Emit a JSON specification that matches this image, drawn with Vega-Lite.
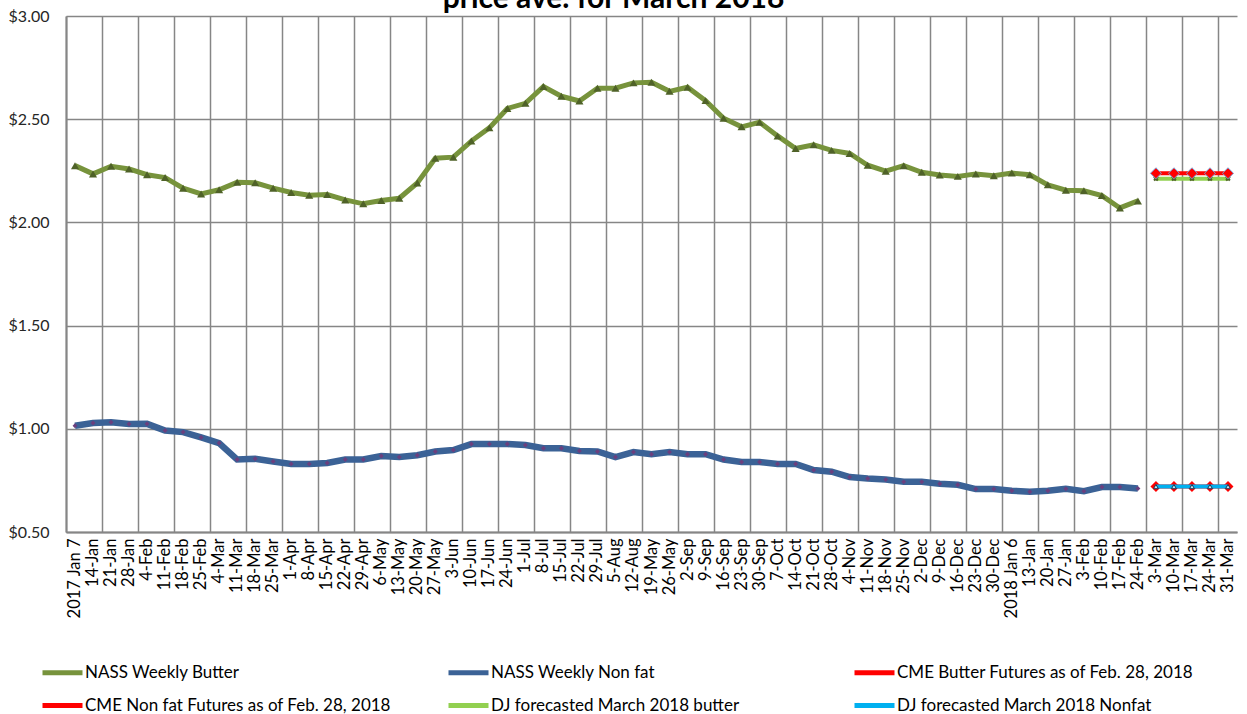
{
  "$schema": "https://vega.github.io/schema/vega-lite/v6.json",
  "width": 1171,
  "height": 516,
  "autosize": "none",
  "padding": {"left": 66, "top": 16, "right": 10, "bottom": 182},
  "background": "white",
  "config": {"view": {"stroke": null}, "font": "Lato"},
  "title": {"text": "price ave. for March 2018", "fontSize": 30, "font": "Lato", "fontWeight": "bold", "color": "#000000", "anchor": "middle", "frame": "group", "baseline": "alphabetic", "offset": -30, "dx": -38},
  "data": {"values": [
    {"w": "2017 Jan 7", "s": "NASS Weekly Butter", "p": 2.275},
    {"w": "14-Jan", "s": "NASS Weekly Butter", "p": 2.235},
    {"w": "21-Jan", "s": "NASS Weekly Butter", "p": 2.272},
    {"w": "28-Jan", "s": "NASS Weekly Butter", "p": 2.259},
    {"w": "4-Feb", "s": "NASS Weekly Butter", "p": 2.231},
    {"w": "11-Feb", "s": "NASS Weekly Butter", "p": 2.217},
    {"w": "18-Feb", "s": "NASS Weekly Butter", "p": 2.166},
    {"w": "25-Feb", "s": "NASS Weekly Butter", "p": 2.138},
    {"w": "4-Mar", "s": "NASS Weekly Butter", "p": 2.158},
    {"w": "11-Mar", "s": "NASS Weekly Butter", "p": 2.194},
    {"w": "18-Mar", "s": "NASS Weekly Butter", "p": 2.192},
    {"w": "25-Mar", "s": "NASS Weekly Butter", "p": 2.166},
    {"w": "1-Apr", "s": "NASS Weekly Butter", "p": 2.145},
    {"w": "8-Apr", "s": "NASS Weekly Butter", "p": 2.132},
    {"w": "15-Apr", "s": "NASS Weekly Butter", "p": 2.135},
    {"w": "22-Apr", "s": "NASS Weekly Butter", "p": 2.109},
    {"w": "29-Apr", "s": "NASS Weekly Butter", "p": 2.090},
    {"w": "6-May", "s": "NASS Weekly Butter", "p": 2.106},
    {"w": "13-May", "s": "NASS Weekly Butter", "p": 2.117},
    {"w": "20-May", "s": "NASS Weekly Butter", "p": 2.191},
    {"w": "27-May", "s": "NASS Weekly Butter", "p": 2.311},
    {"w": "3-Jun", "s": "NASS Weekly Butter", "p": 2.316},
    {"w": "10-Jun", "s": "NASS Weekly Butter", "p": 2.394},
    {"w": "17-Jun", "s": "NASS Weekly Butter", "p": 2.458},
    {"w": "24-Jun", "s": "NASS Weekly Butter", "p": 2.552},
    {"w": "1-Jul", "s": "NASS Weekly Butter", "p": 2.577},
    {"w": "8-Jul", "s": "NASS Weekly Butter", "p": 2.658},
    {"w": "15-Jul", "s": "NASS Weekly Butter", "p": 2.611},
    {"w": "22-Jul", "s": "NASS Weekly Butter", "p": 2.588},
    {"w": "29-Jul", "s": "NASS Weekly Butter", "p": 2.650},
    {"w": "5-Aug", "s": "NASS Weekly Butter", "p": 2.650},
    {"w": "12-Aug", "s": "NASS Weekly Butter", "p": 2.676},
    {"w": "19-May", "s": "NASS Weekly Butter", "p": 2.679},
    {"w": "26-May", "s": "NASS Weekly Butter", "p": 2.635},
    {"w": "2-Sep", "s": "NASS Weekly Butter", "p": 2.655},
    {"w": "9-Sep", "s": "NASS Weekly Butter", "p": 2.590},
    {"w": "16-Sep", "s": "NASS Weekly Butter", "p": 2.505},
    {"w": "23-Sep", "s": "NASS Weekly Butter", "p": 2.463},
    {"w": "30-Sep", "s": "NASS Weekly Butter", "p": 2.485},
    {"w": "7-Oct", "s": "NASS Weekly Butter", "p": 2.419},
    {"w": "14-Oct", "s": "NASS Weekly Butter", "p": 2.358},
    {"w": "21-Oct", "s": "NASS Weekly Butter", "p": 2.376},
    {"w": "28-Oct", "s": "NASS Weekly Butter", "p": 2.349},
    {"w": "4-Nov", "s": "NASS Weekly Butter", "p": 2.334},
    {"w": "11-Nov", "s": "NASS Weekly Butter", "p": 2.277},
    {"w": "18-Nov", "s": "NASS Weekly Butter", "p": 2.248},
    {"w": "25-Nov", "s": "NASS Weekly Butter", "p": 2.275},
    {"w": "2-Dec", "s": "NASS Weekly Butter", "p": 2.243},
    {"w": "9-Dec", "s": "NASS Weekly Butter", "p": 2.230},
    {"w": "16-Dec", "s": "NASS Weekly Butter", "p": 2.223},
    {"w": "23-Dec", "s": "NASS Weekly Butter", "p": 2.235},
    {"w": "30-Dec", "s": "NASS Weekly Butter", "p": 2.226},
    {"w": "2018 Jan 6", "s": "NASS Weekly Butter", "p": 2.239},
    {"w": "13-Jan", "s": "NASS Weekly Butter", "p": 2.231},
    {"w": "20-Jan", "s": "NASS Weekly Butter", "p": 2.182},
    {"w": "27-Jan", "s": "NASS Weekly Butter", "p": 2.156},
    {"w": "3-Feb", "s": "NASS Weekly Butter", "p": 2.153},
    {"w": "10-Feb", "s": "NASS Weekly Butter", "p": 2.130},
    {"w": "17-Feb", "s": "NASS Weekly Butter", "p": 2.070},
    {"w": "24-Feb", "s": "NASS Weekly Butter", "p": 2.104},
    {"w": "2017 Jan 7", "s": "NASS Weekly Non fat", "p": 1.015},
    {"w": "14-Jan", "s": "NASS Weekly Non fat", "p": 1.028},
    {"w": "21-Jan", "s": "NASS Weekly Non fat", "p": 1.032},
    {"w": "28-Jan", "s": "NASS Weekly Non fat", "p": 1.023},
    {"w": "4-Feb", "s": "NASS Weekly Non fat", "p": 1.024},
    {"w": "11-Feb", "s": "NASS Weekly Non fat", "p": 0.992},
    {"w": "18-Feb", "s": "NASS Weekly Non fat", "p": 0.984},
    {"w": "25-Feb", "s": "NASS Weekly Non fat", "p": 0.958},
    {"w": "4-Mar", "s": "NASS Weekly Non fat", "p": 0.931},
    {"w": "11-Mar", "s": "NASS Weekly Non fat", "p": 0.851},
    {"w": "18-Mar", "s": "NASS Weekly Non fat", "p": 0.855},
    {"w": "25-Mar", "s": "NASS Weekly Non fat", "p": 0.842},
    {"w": "1-Apr", "s": "NASS Weekly Non fat", "p": 0.830},
    {"w": "8-Apr", "s": "NASS Weekly Non fat", "p": 0.830},
    {"w": "15-Apr", "s": "NASS Weekly Non fat", "p": 0.834},
    {"w": "22-Apr", "s": "NASS Weekly Non fat", "p": 0.851},
    {"w": "29-Apr", "s": "NASS Weekly Non fat", "p": 0.851},
    {"w": "6-May", "s": "NASS Weekly Non fat", "p": 0.868},
    {"w": "13-May", "s": "NASS Weekly Non fat", "p": 0.863},
    {"w": "20-May", "s": "NASS Weekly Non fat", "p": 0.872},
    {"w": "27-May", "s": "NASS Weekly Non fat", "p": 0.890},
    {"w": "3-Jun", "s": "NASS Weekly Non fat", "p": 0.897},
    {"w": "10-Jun", "s": "NASS Weekly Non fat", "p": 0.926},
    {"w": "17-Jun", "s": "NASS Weekly Non fat", "p": 0.926},
    {"w": "24-Jun", "s": "NASS Weekly Non fat", "p": 0.926},
    {"w": "1-Jul", "s": "NASS Weekly Non fat", "p": 0.921},
    {"w": "8-Jul", "s": "NASS Weekly Non fat", "p": 0.906},
    {"w": "15-Jul", "s": "NASS Weekly Non fat", "p": 0.906},
    {"w": "22-Jul", "s": "NASS Weekly Non fat", "p": 0.893},
    {"w": "29-Jul", "s": "NASS Weekly Non fat", "p": 0.890},
    {"w": "5-Aug", "s": "NASS Weekly Non fat", "p": 0.863},
    {"w": "12-Aug", "s": "NASS Weekly Non fat", "p": 0.887},
    {"w": "19-May", "s": "NASS Weekly Non fat", "p": 0.877},
    {"w": "26-May", "s": "NASS Weekly Non fat", "p": 0.887},
    {"w": "2-Sep", "s": "NASS Weekly Non fat", "p": 0.877},
    {"w": "9-Sep", "s": "NASS Weekly Non fat", "p": 0.877},
    {"w": "16-Sep", "s": "NASS Weekly Non fat", "p": 0.851},
    {"w": "23-Sep", "s": "NASS Weekly Non fat", "p": 0.839},
    {"w": "30-Sep", "s": "NASS Weekly Non fat", "p": 0.839},
    {"w": "7-Oct", "s": "NASS Weekly Non fat", "p": 0.830},
    {"w": "14-Oct", "s": "NASS Weekly Non fat", "p": 0.830},
    {"w": "21-Oct", "s": "NASS Weekly Non fat", "p": 0.800},
    {"w": "28-Oct", "s": "NASS Weekly Non fat", "p": 0.792},
    {"w": "4-Nov", "s": "NASS Weekly Non fat", "p": 0.766},
    {"w": "11-Nov", "s": "NASS Weekly Non fat", "p": 0.759},
    {"w": "18-Nov", "s": "NASS Weekly Non fat", "p": 0.754},
    {"w": "25-Nov", "s": "NASS Weekly Non fat", "p": 0.743},
    {"w": "2-Dec", "s": "NASS Weekly Non fat", "p": 0.743},
    {"w": "9-Dec", "s": "NASS Weekly Non fat", "p": 0.734},
    {"w": "16-Dec", "s": "NASS Weekly Non fat", "p": 0.729},
    {"w": "23-Dec", "s": "NASS Weekly Non fat", "p": 0.708},
    {"w": "30-Dec", "s": "NASS Weekly Non fat", "p": 0.708},
    {"w": "2018 Jan 6", "s": "NASS Weekly Non fat", "p": 0.700},
    {"w": "13-Jan", "s": "NASS Weekly Non fat", "p": 0.695},
    {"w": "20-Jan", "s": "NASS Weekly Non fat", "p": 0.700},
    {"w": "27-Jan", "s": "NASS Weekly Non fat", "p": 0.709},
    {"w": "3-Feb", "s": "NASS Weekly Non fat", "p": 0.698},
    {"w": "10-Feb", "s": "NASS Weekly Non fat", "p": 0.718},
    {"w": "17-Feb", "s": "NASS Weekly Non fat", "p": 0.718},
    {"w": "24-Feb", "s": "NASS Weekly Non fat", "p": 0.711},
    {"w": "3-Mar", "s": "CME Butter Futures as of Feb. 28, 2018", "p": 2.238},
    {"w": "10-Mar", "s": "CME Butter Futures as of Feb. 28, 2018", "p": 2.238},
    {"w": "17-Mar", "s": "CME Butter Futures as of Feb. 28, 2018", "p": 2.238},
    {"w": "24-Mar", "s": "CME Butter Futures as of Feb. 28, 2018", "p": 2.238},
    {"w": "31-Mar", "s": "CME Butter Futures as of Feb. 28, 2018", "p": 2.238},
    {"w": "3-Mar", "s": "CME Non fat  Futures as of Feb. 28, 2018", "p": 0.72},
    {"w": "10-Mar", "s": "CME Non fat  Futures as of Feb. 28, 2018", "p": 0.72},
    {"w": "17-Mar", "s": "CME Non fat  Futures as of Feb. 28, 2018", "p": 0.72},
    {"w": "24-Mar", "s": "CME Non fat  Futures as of Feb. 28, 2018", "p": 0.72},
    {"w": "31-Mar", "s": "CME Non fat  Futures as of Feb. 28, 2018", "p": 0.72},
    {"w": "3-Mar", "s": "DJ forecasted March  2018  butter", "p": 2.212},
    {"w": "10-Mar", "s": "DJ forecasted March  2018  butter", "p": 2.212},
    {"w": "17-Mar", "s": "DJ forecasted March  2018  butter", "p": 2.212},
    {"w": "24-Mar", "s": "DJ forecasted March  2018  butter", "p": 2.212},
    {"w": "31-Mar", "s": "DJ forecasted March  2018  butter", "p": 2.212},
    {"w": "3-Mar", "s": "DJ forecasted March 2018  Nonfat", "p": 0.72},
    {"w": "10-Mar", "s": "DJ forecasted March 2018  Nonfat", "p": 0.72},
    {"w": "17-Mar", "s": "DJ forecasted March 2018  Nonfat", "p": 0.72},
    {"w": "24-Mar", "s": "DJ forecasted March 2018  Nonfat", "p": 0.72},
    {"w": "31-Mar", "s": "DJ forecasted March 2018  Nonfat", "p": 0.72}
  ]},
  "encoding": {
    "x": {
      "field": "w", "type": "ordinal", "bandPosition": 0.5,
      "scale": {"type": "band", "paddingInner": 0, "paddingOuter": 0,
        "domain": ["2017 Jan 7","14-Jan","21-Jan","28-Jan","4-Feb","11-Feb","18-Feb","25-Feb","4-Mar","11-Mar","18-Mar","25-Mar","1-Apr","8-Apr","15-Apr","22-Apr","29-Apr","6-May","13-May","20-May","27-May","3-Jun","10-Jun","17-Jun","24-Jun","1-Jul","8-Jul","15-Jul","22-Jul","29-Jul","5-Aug","12-Aug","19-May","26-May","2-Sep","9-Sep","16-Sep","23-Sep","30-Sep","7-Oct","14-Oct","21-Oct","28-Oct","4-Nov","11-Nov","18-Nov","25-Nov","2-Dec","9-Dec","16-Dec","23-Dec","30-Dec","2018 Jan 6","13-Jan","20-Jan","27-Jan","3-Feb","10-Feb","17-Feb","24-Feb","3-Mar","10-Mar","17-Mar","24-Mar","31-Mar"]},
      "axis": {
        "title": null, "labelAngle": -90, "labelFont": "Lato", "labelFontSize": 16.5, "labelColor": "#000000",
        "labelPadding": 6, "ticks": false, "labelOverlap": false,
        "domainColor": "#868686", "domainWidth": 2,
        "grid": true, "gridColor": "#868686", "gridWidth": 1.5, "bandPosition": 0,
        "gridOpacity": {"condition": {"test": "indexof(domain('x'), datum.value) % 2 === 0", "value": 1}, "value": 0}
      }
    },
    "y": {
      "field": "p", "type": "quantitative",
      "scale": {"domain": [0.5, 3], "nice": false, "zero": false},
      "axis": {
        "title": null, "values": [0.5, 1, 1.5, 2, 2.5, 3], "format": "$.2f",
        "labelFont": "Lato", "labelFontSize": 16, "labelColor": "#262626", "labelPadding": 17,
        "ticks": false, "grid": true, "gridColor": "#868686", "gridWidth": 1.5,
        "domainColor": "#868686", "domainWidth": 2
      }
    },
    "color": {
      "field": "s", "type": "nominal",
      "scale": {
        "domain": ["NASS Weekly Butter","NASS Weekly Non fat","CME Butter Futures as of Feb. 28, 2018","CME Non fat  Futures as of Feb. 28, 2018","DJ forecasted March  2018  butter","DJ forecasted March 2018  Nonfat"],
        "range": ["#77933C","#3B6296","#FF0000","#FF0000","#92D050","#00B0F0"]
      },
      "legend": {
        "title": null, "orient": "none", "legendX": -26, "legendY": 634, "direction": "horizontal",
        "columns": 3, "gridAlign": "all", "columnPadding": 42, "rowPadding": -10,
        "symbolType": "stroke", "symbolSize": 1600, "symbolStrokeWidth": 5,
        "labelFont": "Lato", "labelFontSize": 17, "labelColor": "#000000", "labelOffset": 0,
        "labelLimit": 400, "padding": 0
      }
    }
  },
  "layer": [
    {"transform": [{"filter": "datum.s === 'NASS Weekly Butter'"}], "mark": {"type": "line", "strokeWidth": 5}},
    {"transform": [{"filter": "datum.s === 'NASS Weekly Butter'"}], "mark": {"type": "point", "shape": "triangle-up", "size": 65, "filled": true, "opacity": 1},
     "encoding": {"color": {"value": "#4F6228"}}},
    {"transform": [{"filter": "datum.s === 'NASS Weekly Non fat'"}], "mark": {"type": "line", "strokeWidth": 6.5}},
    {"transform": [{"filter": "datum.s === 'NASS Weekly Non fat'"}], "mark": {"type": "point", "shape": "diamond", "size": 24, "filled": true, "opacity": 1},
     "encoding": {"color": {"value": "#6B3F7E"}}},
    {"transform": [{"filter": "datum.s === 'DJ forecasted March  2018  butter'"}], "mark": {"type": "line", "strokeWidth": 4}},
    {"transform": [{"filter": "datum.s === 'DJ forecasted March  2018  butter'"}], "mark": {"type": "point", "shape": "cross", "angle": 45, "size": 30, "filled": true, "opacity": 1},
     "encoding": {"color": {"value": "#4F6228"}}},
    {"transform": [{"filter": "datum.s === 'CME Butter Futures as of Feb. 28, 2018'"}], "mark": {"type": "line", "strokeWidth": 4}},
    {"transform": [{"filter": "datum.s === 'CME Butter Futures as of Feb. 28, 2018'"}], "mark": {"type": "point", "shape": "diamond", "size": 120, "filled": true, "opacity": 1, "strokeWidth": 1},
     "encoding": {"color": {"value": "#FF0000"}, "fill": {"value": "#FF0000"}, "stroke": {"value": "#7BA0D4"}}},
    {"transform": [{"filter": "datum.s === 'CME Non fat  Futures as of Feb. 28, 2018'"}], "mark": {"type": "line", "strokeWidth": 4}},
    {"transform": [{"filter": "datum.s === 'CME Non fat  Futures as of Feb. 28, 2018'"}], "mark": {"type": "point", "shape": "diamond", "size": 120, "filled": true, "opacity": 1},
     "encoding": {"color": {"value": "#FF0000"}}},
    {"transform": [{"filter": "datum.s === 'DJ forecasted March 2018  Nonfat'"}], "mark": {"type": "line", "strokeWidth": 4}},
    {"transform": [{"filter": "datum.s === 'DJ forecasted March 2018  Nonfat'"}], "mark": {"type": "point", "shape": "triangle-up", "size": 24, "filled": true, "opacity": 1, "strokeWidth": 1},
     "encoding": {"color": {"value": "#BFE6F7"}, "fill": {"value": "#BFE6F7"}, "stroke": {"value": "#1F3550"}}}
  ]
}
